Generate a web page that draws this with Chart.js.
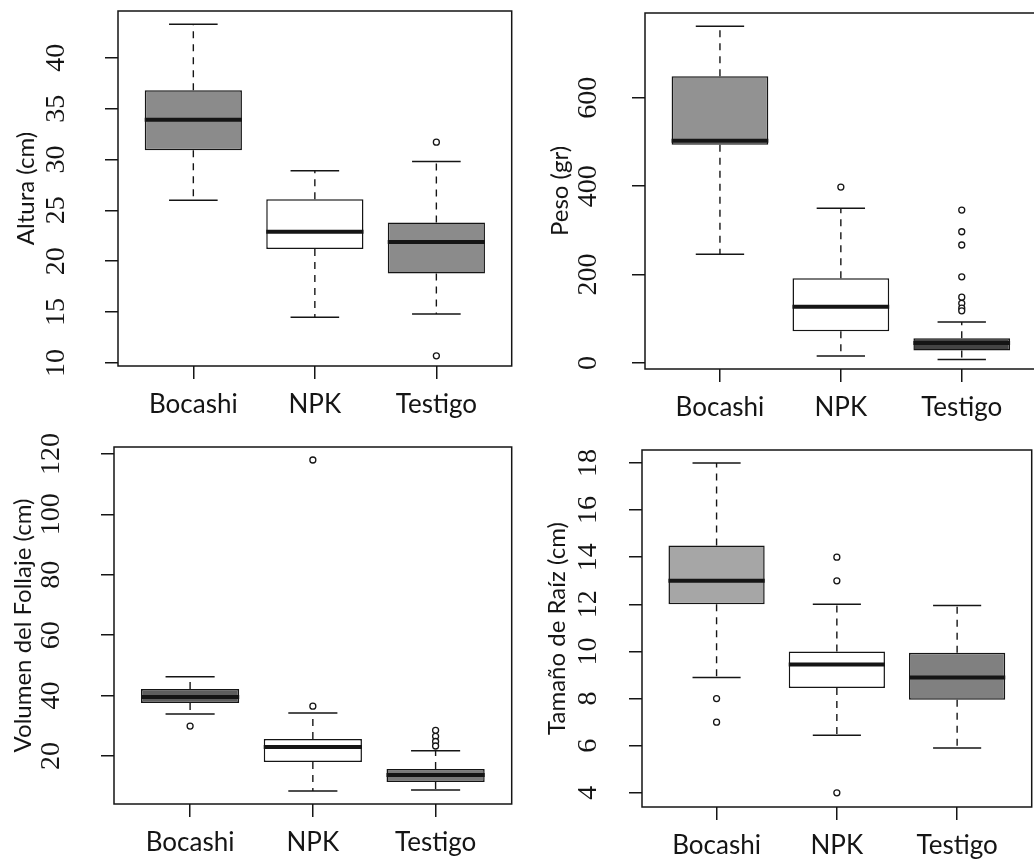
<!DOCTYPE html>
<html>
<head>
<meta charset="utf-8">
<script src="https://cdn.jsdelivr.net/npm/chart.js@4.4.1/dist/chart.umd.min.js"></script>
<style>
	html, body { margin: 0; padding: 0; background: #fff; overflow: hidden; width: 1034px; height: 861px; }
	.panel { position: absolute; }
</style>
</head>
<body>
<div class="panel" style="left:0;top:0;width:517px;height:430px"><canvas id="altura"></canvas></div>
<div class="panel" style="left:517px;top:0;width:525px;height:430px"><canvas id="peso"></canvas></div>
<div class="panel" style="left:0;top:430px;width:517px;height:431px"><canvas id="volumen"></canvas></div>
<div class="panel" style="left:517px;top:430px;width:520px;height:431px"><canvas id="raiz"></canvas></div>
<script>
"use strict";

const categories = ["Bocashi", "NPK", "Testigo"];

// Altura (cm)
const alturaLow = [26.0, 14.5, 14.8];
const alturaQ1 = [30.9, 21.2, 18.8];
const alturaMedian = [33.9, 22.9, 21.9];
const alturaQ3 = [36.8, 26.1, 23.8];
const alturaHigh = [43.3, 28.9, 29.8];
const alturaOutliers = [[], [], [31.7, 10.7]];
const alturaTicks = [10, 15, 20, 25, 30, 35, 40];

// Peso (gr)
const pesoLow = [246, 16, 8];
const pesoQ1 = [494, 72, 28];
const pesoMedian = [503, 127, 45];
const pesoQ3 = [649, 192, 56];
const pesoHigh = [762, 350, 93];
const pesoOutliers = [[], [398], [346, 297, 267, 195, 149, 135, 124, 118]];
const pesoTicks = [0, 200, 400, 600];

// Volumen del Follaje (cm)
const volumenLow = [33.9, 8.4, 8.7];
const volumenQ1 = [37.5, 18.0, 11.4];
const volumenMedian = [39.5, 23.0, 13.7];
const volumenQ3 = [42.2, 25.6, 15.7];
const volumenHigh = [46.2, 34.2, 21.7];
const volumenOutliers = [[29.9], [118, 36.5], [28.5, 26.5, 24.8, 23.3]];
const volumenTicks = [20, 40, 60, 80, 100, 120];

// Tamaño de Raíz (cm)
const raizLow = [8.9, 6.45, 5.9];
const raizQ1 = [12.0, 8.45, 7.95];
const raizMedian = [13.0, 9.45, 8.9];
const raizQ3 = [14.5, 10.0, 9.95];
const raizHigh = [18.0, 12.0, 11.95];
const raizOutliers = [[8.0, 7.0], [14.0, 13.0, 4.0], []];
const raizTicks = [4, 6, 8, 10, 12, 14, 16, 18];

const BOX_HALF = 0.4;
const CAP_HALF = 0.2;
const INK = "#151515";

const frame = {
	id: "frame",
	afterDraw(chart){
		const a = chart.chartArea;
		const ctx = chart.ctx;
		ctx.save();
		ctx.strokeStyle = INK;
		ctx.lineWidth = 1.5;
		ctx.strokeRect(a.left, a.top, a.right - a.left, a.bottom - a.top);
		ctx.restore();
	}
};

function segment(x0, y0, x1, y1, width, dash){
	return {
		type: "line",
		data: [{x: x0, y: y0}, {x: x1, y: y1}],
		borderColor: INK,
		borderWidth: width,
		borderDash: dash || [],
		borderCapStyle: "butt",
		pointRadius: 0,
		fill: false,
		order: 0
	};
}

function boxDatasets(p){
	const sets = [{
		type: "bar",
		data: categories.map((c, i) => ({x: i + 1, y: [p.q1[i], p.q3[i]]})),
		backgroundColor: p.fills,
		borderColor: INK,
		borderWidth: 1.5,
		borderSkipped: false,
		categoryPercentage: 1,
		barPercentage: 0.8,
		order: 1
	}];
	categories.forEach((c, i) => {
		const x = i + 1;
		sets.push(segment(x, p.q3[i], x, p.high[i], 1.4, [7, 6]));
		sets.push(segment(x, p.q1[i], x, p.low[i], 1.4, [7, 6]));
		sets.push(segment(x - CAP_HALF, p.high[i], x + CAP_HALF, p.high[i], 1.5));
		sets.push(segment(x - CAP_HALF, p.low[i], x + CAP_HALF, p.low[i], 1.5));
		sets.push(segment(x - BOX_HALF, p.median[i], x + BOX_HALF, p.median[i], 4));
	});
	const outs = [];
	p.outliers.forEach((list, i) => list.forEach(v => outs.push({x: i + 1, y: v})));
	sets.push({
		type: "scatter",
		data: outs,
		pointStyle: "circle",
		pointRadius: 3,
		pointBackgroundColor: "#fff",
		pointBorderColor: INK,
		pointBorderWidth: 1.3,
		order: 0
	});
	return sets;
}

function drawPanel(id, p){
	const ctx = document.querySelector("#" + id).getContext("2d");
	new Chart(ctx, {
		type: "bar",
		data: {datasets: boxDatasets(p)},
		plugins: [frame],
		options: {
			responsive: true,
			maintainAspectRatio: false,
			animation: false,
			layout: {padding: {top: p.top, right: p.right, left: 0, bottom: 0}},
			plugins: {legend: {display: false}, tooltip: {enabled: false}},
			scales: {
				x: {
					type: "linear",
					min: 0.38,
					max: 3.62,
					offset: false,
					afterBuildTicks: s => { s.ticks = categories.map((c, i) => ({value: i + 1})); },
					afterFit: s => {
						s.height = p.xHeight;
						s.paddingLeft = 0;
						s.paddingRight = 0;
					},
					border: {display: false},
					grid: {offset: false, drawOnChartArea: false, drawTicks: true, tickLength: 13, color: INK, lineWidth: 1.5},
					ticks: {
						autoSkip: false,
						maxRotation: 0,
						padding: 10,
						color: INK,
						font: {family: "Lato", size: 26},
						callback: v => categories[Math.round(v) - 1]
					}
				},
				y: {
					min: p.min,
					max: p.max,
					afterBuildTicks: s => { s.ticks = p.ticks.map(v => ({value: v})); },
					afterFit: s => {
						s.width = p.yWidth;
						s.paddingTop = 0;
						s.paddingBottom = 0;
					},
					border: {display: false},
					grid: {drawOnChartArea: false, drawTicks: true, tickLength: 13, color: INK, lineWidth: 1.5},
					ticks: {
						minRotation: 90,
						maxRotation: 90,
						crossAlign: "center",
						padding: p.tickPad,
						color: INK,
						font: {family: "Liberation Serif", size: 28},
						callback: v => String(v)
					},
					title: {
						display: true,
						text: p.title,
						color: INK,
						font: {family: "Lato", size: 24},
						padding: {top: p.titlePad, bottom: 0}
					}
				}
			}
		}
	});
}

drawPanel("altura", {
	title: "Altura (cm)", low: alturaLow, q1: alturaQ1, median: alturaMedian, q3: alturaQ3, high: alturaHigh,
	outliers: alturaOutliers, ticks: alturaTicks, fills: ["#8b8b8b", "#ffffff", "#8b8b8b"],
	min: 9.7, max: 44.6, top: 11, right: 5, yWidth: 118, xHeight: 64, tickPad: 34, titlePad: 12
});

drawPanel("peso", {
	title: "Peso (gr)", low: pesoLow, q1: pesoQ1, median: pesoMedian, q3: pesoQ3, high: pesoHigh,
	outliers: pesoOutliers, ticks: pesoTicks, fills: ["#929292", "#ffffff", "#444444"],
	min: -13.6, max: 792, top: 13, right: 1, yWidth: 128, xHeight: 61, tickPad: 22, titlePad: 29
});

drawPanel("volumen", {
	title: "Volumen del Follaje (cm)", low: volumenLow, q1: volumenQ1, median: volumenMedian, q3: volumenQ3, high: volumenHigh,
	outliers: volumenOutliers, ticks: volumenTicks, fills: ["#5e5e5e", "#ffffff", "#7a7a7a"],
	min: 4.1, max: 122.3, top: 17, right: 5, yWidth: 114, xHeight: 57, tickPad: 28, titlePad: 9
});

drawPanel("raiz", {
	title: "Tamaño de Raíz (cm)", low: raizLow, q1: raizQ1, median: raizMedian, q3: raizQ3, high: raizHigh,
	outliers: raizOutliers, ticks: raizTicks, fills: ["#a6a6a6", "#ffffff", "#808080"],
	min: 3.4, max: 18.55, top: 20, right: 1, yWidth: 125, xHeight: 54, tickPad: 26, titlePad: 26
});
</script>
</body>
</html>
